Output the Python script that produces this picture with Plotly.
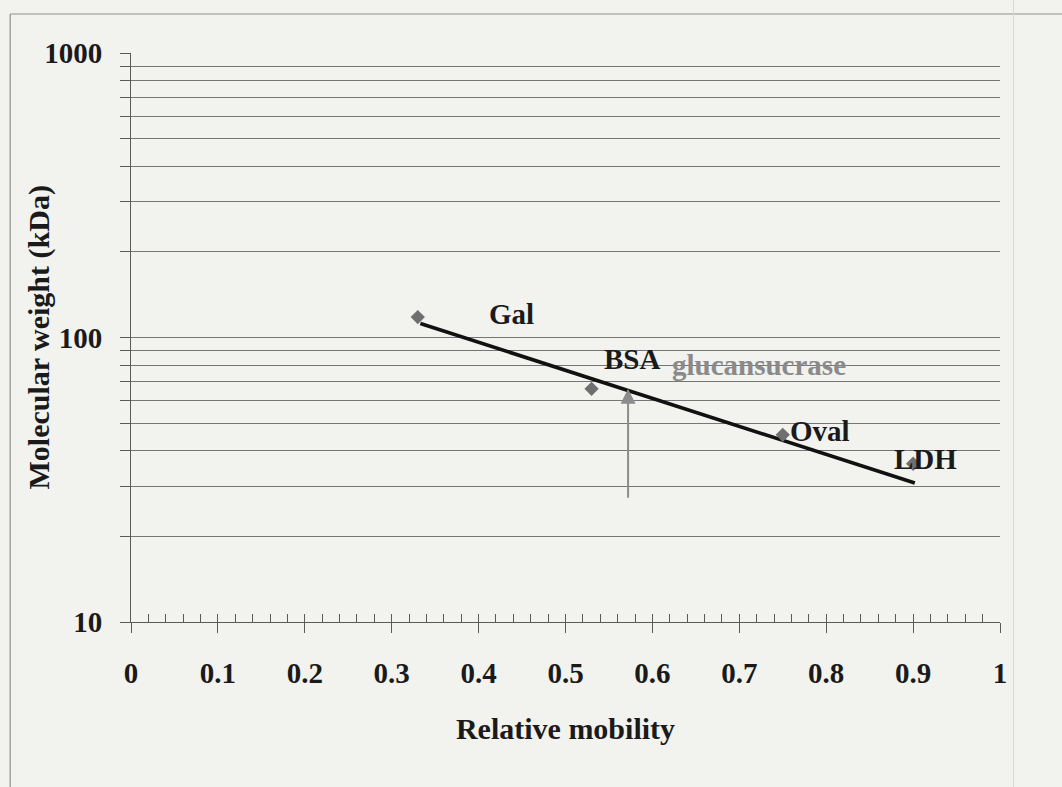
import numpy as np
import plotly.graph_objects as go

# Marker proteins: relative mobility vs molecular weight (kDa)
proteins = ["Gal", "BSA", "Oval", "LDH"]
mobility = [0.33, 0.53, 0.75, 0.90]
mol_weight = [118, 66, 45.5, 36]

# Standard curve drawn through the markers
trend_mobility = [0.333, 0.902]
trend_weight = [112, 30.8]

# Unknown protein
unknown_name = "glucansucrase"
unknown_mobility = 0.572
unknown_weight = 66
unknown_arrow_base = 27

# Axis ticks
x_ticks = [0, 0.1, 0.2, 0.3, 0.4, 0.5, 0.6, 0.7, 0.8, 0.9, 1]
x_tick_text = ["0", "0.1", "0.2", "0.3", "0.4", "0.5", "0.6", "0.7", "0.8", "0.9", "1"]
y_ticks = [m * 10 ** e for e in (1, 2) for m in range(1, 10)] + [1000]
y_tick_text = ["10"] + [""] * 8 + ["100"] + [""] * 8 + ["1000"]

FONT = "Liberation Serif, Times New Roman, serif"
BG = "#f2f2ef"
GRID = "#767676"
INK = "#1a1a1a"

fig = go.Figure()

fig.add_trace(go.Scatter(
    x=trend_mobility, y=trend_weight, mode="lines",
    line=dict(color="#111111", width=3.6), hoverinfo="skip", showlegend=False,
))
fig.add_trace(go.Scatter(
    x=mobility, y=mol_weight, mode="markers", text=proteins,
    marker=dict(symbol="diamond", size=11, color="#6f6f6f"),
    showlegend=False,
))
# carrier for the secondary (inside-tick) x axis
fig.add_trace(go.Scatter(x=[0, 1], y=[10, 10], xaxis="x2", mode="lines",
                         line=dict(width=0), hoverinfo="skip", showlegend=False))

# Protein labels (left edge x, vertical centre y in kDa)
label_pos = {
    "Gal": (0.410, 121),
    "BSA": (0.542, 84),
    "Oval": (0.756, 46.9),
    "LDH": (0.876, 37.4),
}
for name in proteins:
    lx, ly = label_pos[name]
    fig.add_annotation(x=lx, y=np.log10(ly), xref="x", yref="y", text=f"<b>{name}</b>",
                       showarrow=False, xanchor="left", yanchor="middle",
                       font=dict(family=FONT, size=29, color=INK))

fig.add_annotation(x=0.620, y=np.log10(80), xref="x", yref="y",
                   text=f"<b>{unknown_name}</b>", showarrow=False,
                   xanchor="left", yanchor="middle",
                   font=dict(family=FONT, size=29, color="#8a8a8a"))

# Arrow marking the unknown on the standard curve
fig.add_annotation(x=unknown_mobility, y=np.log10(unknown_weight),
                   ax=unknown_mobility, ay=np.log10(unknown_arrow_base),
                   xref="x", yref="y", axref="x", ayref="y", text="",
                   showarrow=True, arrowhead=2, arrowsize=1.5, arrowwidth=2,
                   arrowcolor="#8c8c8c", standoff=0)

# Y axis title
fig.add_annotation(x=-0.107, y=0.5, xref="paper", yref="paper",
                   text="<b>Molecular weight (kDa)</b>", textangle=-90,
                   showarrow=False, xanchor="center", yanchor="middle",
                   font=dict(family=FONT, size=30, color=INK))

# Frame around the chart
fig.add_shape(type="line", xref="paper", yref="paper", x0=-0.139, x1=1.25, y0=1.0685, y1=1.0685,
              line=dict(color="#8f8f8f", width=1.2))
fig.add_shape(type="line", xref="paper", yref="paper", x0=-0.139, x1=-0.139, y0=1.0685, y1=-0.4,
              line=dict(color="#8f8f8f", width=1.2))
fig.add_shape(type="line", xref="paper", yref="paper", x0=1.0155, x1=1.0155, y0=1.1, y1=-0.4,
              line=dict(color="#d6d6d4", width=1))

fig.update_layout(
    width=1062, height=787,
    margin=dict(l=131, r=62, t=53, b=165),
    paper_bgcolor=BG, plot_bgcolor=BG,
    font=dict(family=FONT, color=INK),
    xaxis=dict(
        range=[0, 1], tickvals=x_ticks, ticktext=x_tick_text,
        ticks="outside", ticklen=10, tickwidth=1, tickcolor="#5a5a5a",
        showline=True, linecolor="#5a5a5a", linewidth=1,
        showgrid=False, zeroline=False,
        tickfont=dict(family=FONT, size=29, color=INK, weight="bold"),
        ticklabelstandoff=15,
        title=dict(text="<b>Relative mobility</b>", font=dict(family=FONT, size=30, color=INK),
                   standoff=30),
    ),
    xaxis2=dict(
        range=[0, 1], overlaying="x", anchor="y", side="bottom",
        tick0=0, dtick=0.02, ticks="inside", ticklen=8, tickwidth=1, tickcolor="#5a5a5a",
        showticklabels=False, showgrid=False, showline=False, zeroline=False,
    ),
    yaxis=dict(
        type="log", range=[1, 3], tickvals=y_ticks, ticktext=y_tick_text,
        ticks="outside", ticklen=10, tickwidth=1, tickcolor="#5a5a5a",
        showline=True, linecolor="#5a5a5a", linewidth=1,
        showgrid=True, gridcolor=GRID, gridwidth=1.2, zeroline=False,
        tickfont=dict(family=FONT, size=29, color=INK, weight="bold"),
        ticklabelstandoff=12,
    ),
)

fig.write_html("out.html")
